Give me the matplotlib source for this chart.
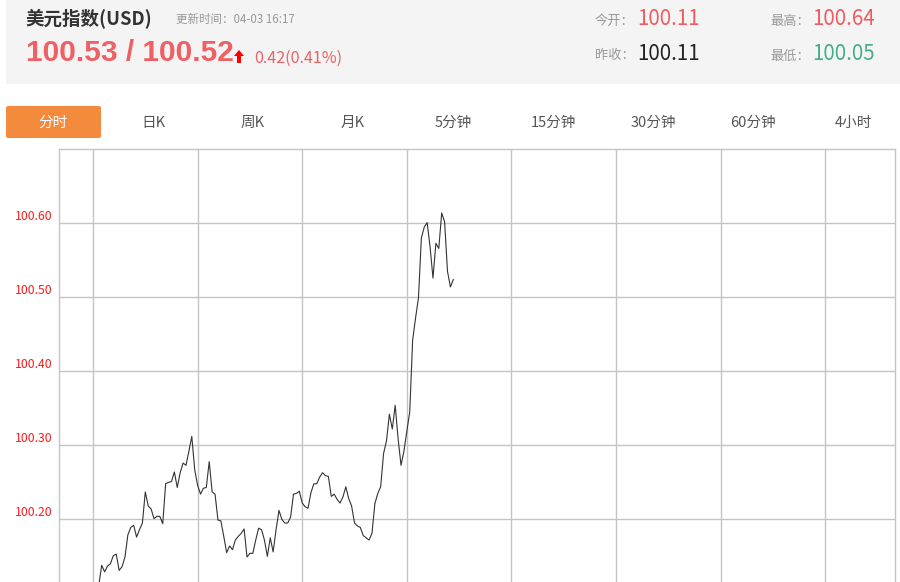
import numpy as np
import matplotlib
matplotlib.use("Agg")
import matplotlib.pyplot as plt
from matplotlib.patches import Rectangle, FancyBboxPatch, Polygon

plt.rcParams['font.family'] = ['Noto Sans CJK SC', 'DejaVu Sans']

# =========================
# Donnees
# =========================
title = "美元指数(USD)"
update_time = "更新时间：04-03 16:17"
price_text = "100.53 / 100.52"
change_text = "0.42(0.41%)"
stat_labels = ["今开：", "最高：", "昨收：", "最低："]
stat_values = ["100.11", "100.64", "100.11", "100.05"]
stat_colors = ["#ef5b5e", "#ef5b5e", "#222222", "#43ae88"]
tabs = ["分时", "日K", "周K", "月K", "5分钟", "15分钟", "30分钟", "60分钟", "4小时"]

# minutes (pas de 5 min) et valeurs de l'indice
start_minute = 10
step_minute = 5
values = [
    100.111, 100.138, 100.129, 100.137, 100.140, 100.151, 100.153, 100.131, 100.136, 100.149,
    100.179, 100.189, 100.192, 100.176, 100.186, 100.195, 100.237, 100.218, 100.214, 100.201,
    100.204, 100.204, 100.194, 100.248, 100.250, 100.251, 100.264, 100.243, 100.263, 100.276,
    100.273, 100.292, 100.312, 100.267, 100.246, 100.234, 100.242, 100.243, 100.278, 100.237,
    100.234, 100.199, 100.198, 100.177, 100.155, 100.164, 100.159, 100.172, 100.177, 100.181,
    100.187, 100.149, 100.154, 100.154, 100.172, 100.188, 100.186, 100.172, 100.150, 100.175,
    100.156, 100.186, 100.212, 100.200, 100.195, 100.195, 100.203, 100.234, 100.235, 100.238,
    100.222, 100.217, 100.215, 100.236, 100.248, 100.248, 100.257, 100.263, 100.259, 100.258,
    100.231, 100.234, 100.227, 100.222, 100.230, 100.244, 100.228, 100.218, 100.195, 100.191,
    100.189, 100.178, 100.175, 100.172, 100.181, 100.221, 100.235, 100.244, 100.289, 100.306,
    100.342, 100.322, 100.354, 100.309, 100.273, 100.292, 100.319, 100.345, 100.442, 100.472,
    100.499, 100.580, 100.595, 100.601, 100.568, 100.526, 100.573, 100.566, 100.614, 100.602,
    100.535, 100.514, 100.524,
]
minutes = start_minute + step_minute * np.arange(len(values))

y_ticks = [100.20, 100.30, 100.40, 100.50, 100.60]
x_grid = [0, 180, 360, 540, 720, 900, 1080, 1260]

W, H = 900, 582
fig = plt.figure(figsize=(W / 100, H / 100), dpi=100)
fig.patch.set_facecolor("white")


def fx(x):
    return x / W


def fy(y):
    return 1 - y / H


# =========================
# En-tete
# =========================
fig.patches.append(Rectangle((fx(6), fy(84)), fx(894), 84 / H, transform=fig.transFigure,
                             facecolor="#f4f4f4", edgecolor="none", zorder=0))

fig.text(fx(25), fy(19), title, fontsize=13.3, fontweight="bold", color="#333333", va="center")
fig.text(fx(176), fy(19), update_time, fontsize=8.3, color="#999999", va="center")
fig.text(fx(26), fy(53), price_text, fontsize=21.5, fontweight="bold", color="#ef5f63",
         va="center", family=["Liberation Sans", "DejaVu Sans"])
fig.patches.append(Polygon([[fx(234), fy(56)], [fx(239), fy(50)], [fx(244), fy(56)],
                            [fx(241), fy(56)], [fx(241), fy(63)], [fx(237), fy(63)],
                            [fx(237), fy(56)]], closed=True, transform=fig.transFigure,
                           facecolor="#ff0000", edgecolor="none"))
fig.text(fx(254), fy(58), change_text, fontsize=11.6, color="#ef5f63", va="center")

stat_pos = [(595, 20), (770, 20), (595, 55), (770, 55)]
for (x, y), lab, val, col in zip(stat_pos, stat_labels, stat_values, stat_colors):
    fig.text(fx(x), fy(y + 1), lab, fontsize=9.5, color="#999999", va="center")
    fig.text(fx(x + 42), fy(y - 1), val, fontsize=14.8, color=col, va="center")

# =========================
# Onglets
# =========================
fig.patches.append(FancyBboxPatch((fx(6), fy(138)), fx(95), 32 / H,
                                  boxstyle="round,pad=0,rounding_size=0.003",
                                  transform=fig.transFigure, facecolor="#f48a3c",
                                  edgecolor="none"))
for i, tab in enumerate(tabs):
    col = "white" if i == 0 else "#555555"
    fig.text(fx(53 + 100 * i), fy(123), tab, fontsize=10.5, color=col, ha="center", va="center")

# =========================
# Graphique
# =========================
y_top_px, left_px, right_px = 149.3, 59, 895
ax = fig.add_axes([fx(left_px), 0, fx(right_px - left_px), fy(y_top_px)])
ax.plot(minutes, values, color="#333333", linewidth=0.8)

ax.set_xlim(-58.5, 1380)
ax.set_ylim(100.1153, 100.70)
ax.set_yticks(y_ticks)
ax.set_yticklabels([f"{v:.2f}" for v in y_ticks])
ax.set_xticks(x_grid)
ax.set_xticklabels([])
ax.tick_params(axis="both", length=0)
ax.tick_params(axis="y", colors="#ff1a1a", labelsize=8.8, pad=5)
for lbl in ax.get_yticklabels():
    lbl.set_verticalalignment("bottom")
ax.grid(True, color="#c4c4c4", linewidth=1)
ax.set_axisbelow(True)
for side in ["left", "top", "right"]:
    ax.spines[side].set_color("#c4c4c4")
    ax.spines[side].set_linewidth(1)
ax.spines["bottom"].set_visible(False)

plt.savefig("out.png", dpi=100)
